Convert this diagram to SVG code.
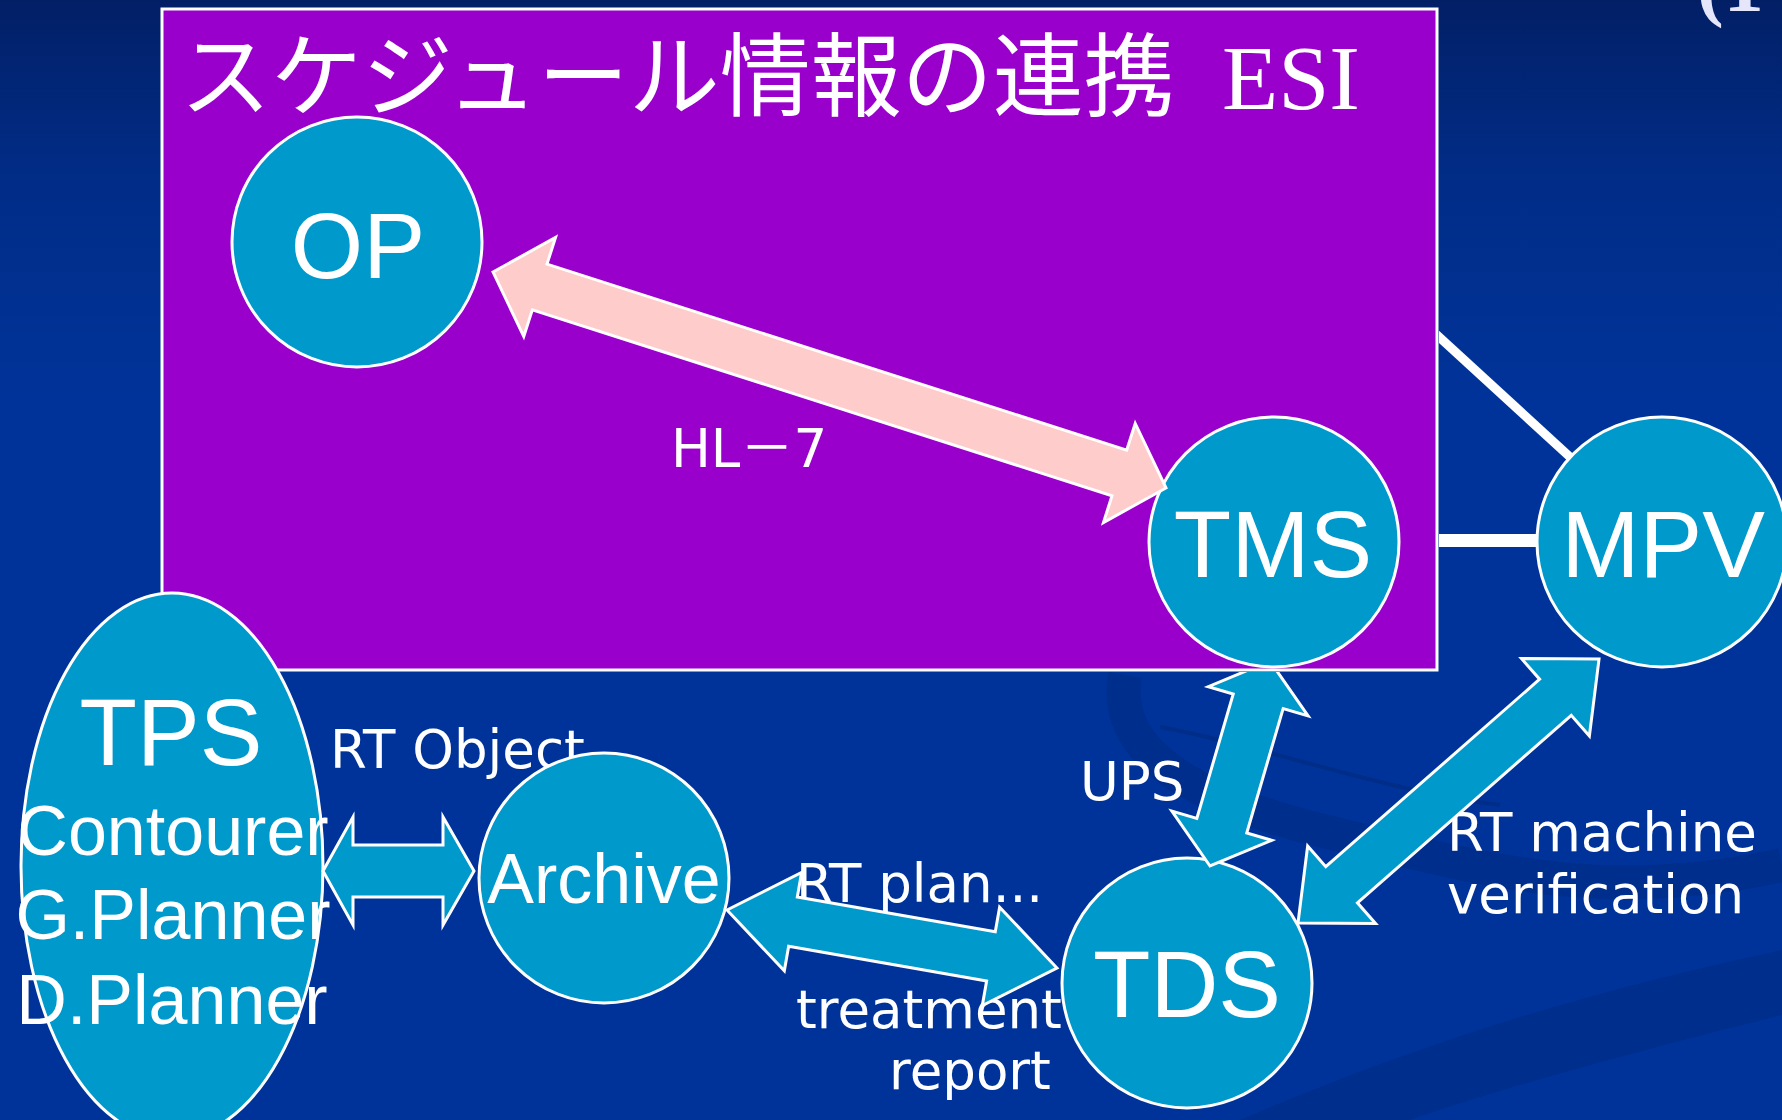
<svg xmlns="http://www.w3.org/2000/svg" width="1782" height="1120" viewBox="0 0 1782 1120">
  <defs>
    <linearGradient id="bg" x1="0" y1="0" x2="0" y2="1">
      <stop offset="0" stop-color="#021f66"/>
      <stop offset="0.15" stop-color="#012c86"/>
      <stop offset="0.35" stop-color="#003399"/>
      <stop offset="1" stop-color="#003399"/>
    </linearGradient>
    <clipPath id="outsideESI">
      <path clip-rule="evenodd" d="M0,0 H1782 V1120 H0 Z M160,7 V672 H1439 V7 Z"/>
    </clipPath>
    <style>
      .node { fill: #0099cc; stroke: #ffffff; stroke-width: 3; }
      .nlabel { font-family: "Liberation Sans", Arial, sans-serif; fill: #ffffff; text-anchor: middle; }
      .elabel { font-family: "DejaVu Sans", Verdana, "Noto Sans CJK JP", sans-serif; font-size: 53px; fill: #ffffff; }
      .arrow { fill: #0099cc; stroke: #ffffff; stroke-width: 3; stroke-linejoin: miter; }
      .pink { fill: #ffcccc; stroke: #ffffff; stroke-width: 3; stroke-linejoin: miter; }
      .wline { stroke: #ffffff; fill: none; }
    </style>
  </defs>

  <!-- background -->
  <rect x="0" y="0" width="1782" height="1120" fill="url(#bg)"/>
  <g id="background-swooshes" fill="none">
    <path d="M1125,675 C1110,760 1210,805 1340,835 C1480,868 1600,905 1782,865" stroke="#002b85" stroke-width="34" opacity="0.6"/>
    <path d="M1160,727 C1260,745 1380,790 1500,805" stroke="#00297d" stroke-width="4" opacity="0.6"/>
    <path d="M1240,1120 C1450,1030 1620,985 1782,950 L1782,1015 C1620,1055 1480,1095 1410,1120 Z" fill="#002a82" opacity="0.55"/>
  </g>

  <!-- ESI region -->
  <g id="esi-region">
    <rect x="162" y="9" width="1275" height="661" fill="#9900cc" stroke="#ffffff" stroke-width="3"/>
    <text x="180" y="109" font-family="'Noto Sans CJK JP', sans-serif" font-size="91" fill="#ffffff">スケジュール情報の連携</text>
    <text x="1222" y="109" font-family="'Liberation Serif', 'Times New Roman', serif" font-size="92" fill="#ffffff">ESI</text>
  </g>

  <text id="corner-text" x="1697" y="11" font-family="'Liberation Serif', serif" font-weight="bold" font-size="80" fill="#e6e6fa">(1</text>

  <!-- connector labels -->
  <g id="labels">
    <text class="elabel" x="671" y="467">HL－7</text>
    <text class="elabel" x="330" y="768">RT Object</text>
    <text class="elabel" x="1080" y="800">UPS</text>
    <text class="elabel" x="796" y="902">RT plan...</text>
    <text class="elabel" x="796" y="1028">treatment</text>
    <text class="elabel" x="889" y="1089">report</text>
    <text class="elabel" x="1447" y="851">RT machine</text>
    <text class="elabel" x="1447" y="913">verification</text>
  </g>

  <!-- nodes -->
  <g id="node-OP">
    <circle class="node" cx="357" cy="242" r="125"/>
    <text class="nlabel" x="358" y="278" font-size="93">OP</text>
  </g>
  <g id="node-TMS">
    <circle class="node" cx="1274" cy="542" r="125"/>
    <text class="nlabel" x="1273" y="577" font-size="94">TMS</text>
  </g>
  <g id="node-MPV">
    <circle class="node" cx="1662" cy="542" r="125"/>
    <text class="nlabel" x="1663" y="577" font-size="94">MPV</text>
  </g>
  <g id="node-TPS">
    <ellipse class="node" cx="172" cy="866" rx="151" ry="273"/>
    <text class="nlabel" x="171" y="765" font-size="94">TPS</text>
    <text class="nlabel" x="173" y="855" font-size="70">Contourer</text>
    <text class="nlabel" x="173" y="939" font-size="70">G.Planner</text>
    <text class="nlabel" x="172" y="1024" font-size="70">D.Planner</text>
  </g>
  <g id="node-Archive">
    <circle class="node" cx="604" cy="878" r="125"/>
    <text class="nlabel" x="604" y="903" font-size="70">Archive</text>
  </g>
  <g id="node-TDS">
    <circle class="node" cx="1187" cy="983" r="125"/>
    <text class="nlabel" x="1187" y="1017" font-size="94">TDS</text>
  </g>

  <!-- connectors -->
  <g id="connectors">
    <g clip-path="url(#outsideESI)">
      <line class="wline" x1="1420" y1="540.5" x2="1538" y2="540.5" stroke-width="13"/>
      <line class="wline" x1="1420" y1="319.4" x2="1570" y2="457" stroke-width="9"/>
      <!-- TDS <-> TMS (UPS) -->
      <polygon class="arrow" transform="translate(1210,866) rotate(-73.69)" points="0,0 42,-52 42,-26 171.6,-26 171.6,-52 213.6,0 171.6,52 171.6,26 42,26 42,52"/>
    </g>
    <!-- OP <-> TMS (HL-7) -->
    <polygon class="pink" transform="translate(493,272) rotate(17.79)" points="0,0 49,-52 49,-24 657.8,-24 657.8,-52 706.8,0 657.8,52 657.8,24 49,24 49,52"/>
    <!-- TPS <-> Archive -->
    <polygon class="arrow" points="323,871 353,817 353,845 443,845 443,817 474,871 443,925 443,897 353,897 353,925"/>
    <!-- Archive <-> TDS -->
    <polygon class="arrow" transform="translate(727,910) rotate(9.968)" points="0,0 67,-50 67,-25 268,-25 268,-50 335,0 268,50 268,25 67,25 67,50"/>
    <!-- TDS <-> MPV -->
    <polygon class="arrow" transform="translate(1298,923) rotate(-41.25)" points="0,0 58,-51.5 58,-24 342.4,-24 342.4,-51.5 400.4,0 342.4,51.5 342.4,24 58,24 58,51.5"/>
  </g>
</svg>
